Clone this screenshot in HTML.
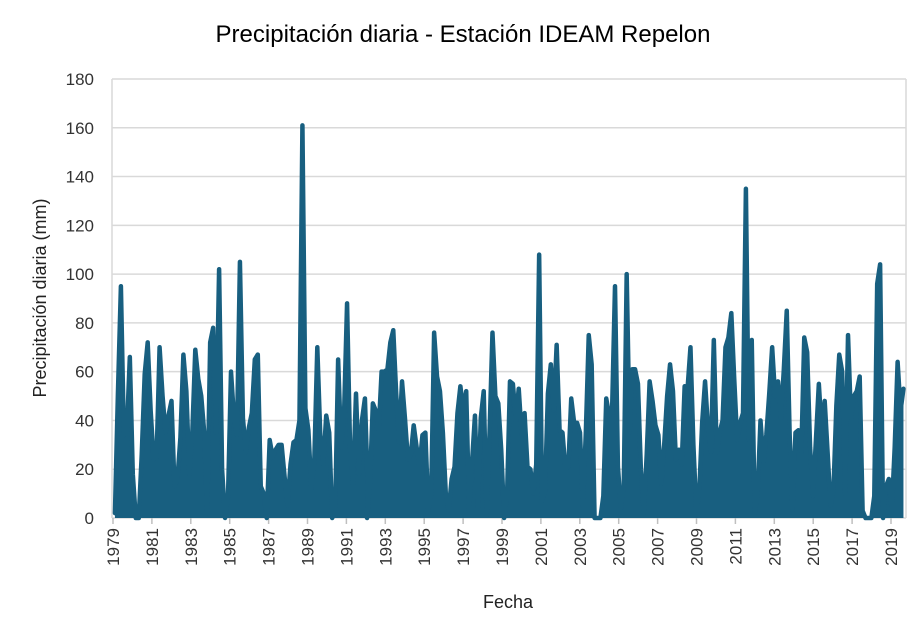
<!DOCTYPE html>
<html><head><meta charset="utf-8">
<style>
html,body{margin:0;padding:0;background:#fff;}
svg{display:block;font-family:"Liberation Sans",sans-serif;}
</style></head>
<body>
<svg id="chart" width="923" height="632" viewBox="0 0 923 632">
  <text x="463" y="42" text-anchor="middle" font-size="24" fill="#000">Precipitación diaria - Estación IDEAM Repelon</text>
  <text transform="translate(46,298) rotate(-90)" text-anchor="middle" font-size="18" fill="#222">Precipitación diaria (mm)</text>
  <text x="508" y="608" text-anchor="middle" font-size="18" fill="#222">Fecha</text>
  <g id="grid"></g>
  <g id="yticks"></g>
  <g id="xticks"></g>
  <g id="series"></g>
</svg>
<script>
// ---- data ----
const segStartYears = [1979.1, 1992.06, 2005.84];
const segStepYears = [0.153, 0.15, 0.15];
const yTicks = [0,20,40,60,80,100,120,140,160,180];
const xTickYears = [1979,1981,1983,1985,1987,1989,1991,1993,1995,1997,1999,2001,2003,2005,2007,2009,2011,2013,2015,2017,2019];
const precipA = [2,51,95,34,35,66,18,0,0,26,59,72,44,24,25,70,50,35,42,48,13,16,33,67,52,18,35,69,57,50,35,2,72,78,35,102,20,0,9,60,41,34,105,41,27,37,43,65,67,13,10,0,32,25,28,30,30,17,5,22,31,32,40,161,45,36,12,24,70,34,22,42,35,0,3,65,29,43,88,29,14,51,18,40,49,11];
const precipB = [0,14,47,44,36,60,60,61,72,77,51,31,56,41,24,26,38,29,21,34,35,3,10,76,58,52,35,10,3,16,21,43,54,44,52,3,23,42,4,41,52,1,35,76,50,47,28,0,9,56,55,40,53,34,43,21,20,10,22,108,7,11,51,63,44,71,36,35,20,21,49,39,39,35,5,35,75,63,0,0,0,9,49,42,44,95,21,4,13,100,35,61];
const precipC = [61,55,20,2,26,56,48,38,34,14,30,50,63,52,24,28,22,54,53,70,30,3,10,39,56,37,27,73,27,35,40,70,74,84,57,32,39,43,135,32,73,2,10,40,23,34,51,70,50,56,41,61,85,34,3,35,36,27,74,68,29,9,32,55,35,48,27,5,11,46,67,60,10,75,41,50,52,58,3,0,0,0,9,96,104,0,13,16,3,29,64,44,53];
const segments = [precipA, precipB, precipC];

// ---- axes ----
const plotL = 112, plotR = 906, plotT = 79, plotB = 518;
const yMax = 180;
const x0 = 113, pxPerYear = 19.45;
function yScale(v){ return plotB - (v / yMax) * (plotB - plotT); }
function xScale(year){ return x0 + (year - 1979) * pxPerYear; }
const NS = "http://www.w3.org/2000/svg";
function mk(tag, attrs, parent){
  const e = document.createElementNS(NS, tag);
  for (const k in attrs) e.setAttribute(k, attrs[k]);
  parent.appendChild(e);
  return e;
}
const grid = document.getElementById('grid');
const yt = document.getElementById('yticks');
const xt = document.getElementById('xticks');
const series = document.getElementById('series');

yTicks.forEach(function(v){
  const y = yScale(v);
  const ln = mk('line', {x1: plotL, x2: plotR, y1: y, y2: y, stroke: '#d9d9d9', 'stroke-width': 1.5}, grid);
  
  
  const t = mk('text', {x: 94, y: y + 6, 'text-anchor': 'end', 'font-size': 17, fill: '#333'}, yt);
  t.textContent = v;
  
  
});
const lAxis = mk('line', {x1: plotL, x2: plotL, y1: plotT, y2: plotB, stroke: '#d9d9d9', 'stroke-width': 1.5}, grid);


const rAxis = mk('line', {x1: plotR, x2: plotR, y1: plotT, y2: plotB, stroke: '#d9d9d9', 'stroke-width': 1.5}, grid);



xTickYears.forEach(function(yr){
  const x = xScale(yr);
  const tk = mk('line', {x1: x, x2: x, y1: plotB, y2: plotB + 6, stroke: '#bfbfbf', 'stroke-width': 1.5}, xt);
  
  
  const t = mk('text', {transform: 'translate(' + (x + 6) + ',' + (plotB + 10) + ') rotate(-90)', 'text-anchor': 'end', 'font-size': 17, fill: '#333'}, xt);
  t.textContent = yr;
  
  
});

// ---- series ----
let pts = [];
segments.forEach(function(seg, s){
  seg.forEach(function(v, i){
    const yr = segStartYears[s] + i * segStepYears[s];
    pts.push({x: xScale(yr), y: yScale(v)});
  });
});
const ptStr = pts.map(function(p){ return p.x.toFixed(2) + ',' + p.y.toFixed(2); }).join(' ');
const firstX = pts[0].x.toFixed(2);
const lastX = pts[pts.length - 1].x.toFixed(2);
const area = mk('polygon', {points: firstX + ',' + plotB + ' ' + ptStr + ' ' + lastX + ',' + plotB, fill: '#185f80'}, series);


const line = mk('polyline', {points: ptStr, fill: 'none', stroke: '#185f80', 'stroke-width': 4.5, 'stroke-linejoin': 'round', 'stroke-linecap': 'round'}, series);


</script>
</body></html>
